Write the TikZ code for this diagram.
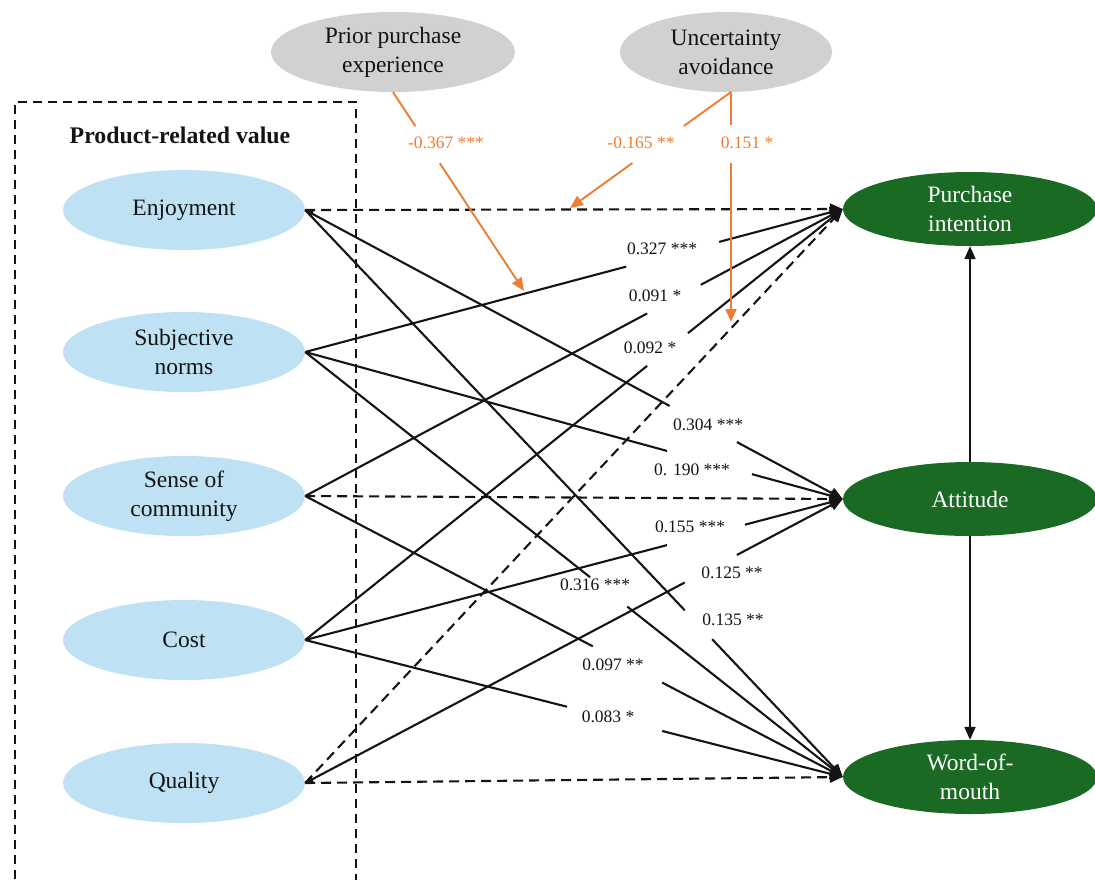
\documentclass[tikz,border=0pt]{standalone}
\usepackage{fontspec}
\setmainfont{Liberation Serif}
\usetikzlibrary{shapes.geometric,arrows.meta,calc}
\definecolor{valblue}{RGB}{190,226,243}
\definecolor{modgray}{RGB}{209,209,209}
\definecolor{outgreen}{RGB}{27,106,36}
\definecolor{modorange}{RGB}{237,125,49}
\definecolor{ink}{RGB}{20,20,20}

\begin{document}
\begin{tikzpicture}[x=1pt,y=-1pt,
  every node/.style={font=\fontsize{23.5}{29}\selectfont, text=ink},
  valnode/.style={ellipse, fill=valblue, minimum width=242pt, minimum height=80pt,
                  inner sep=0pt, align=center},
  modnode/.style={ellipse, fill=modgray, minimum width=244pt, minimum height=80pt,
                  inner sep=0pt, align=center},
  outnode/.style={ellipse, fill=outgreen, minimum width=254pt, minimum height=74pt,
                  inner sep=0pt, align=center, text=white},
  link/.style={line width=2.1pt, ink},
  nslink/.style={link, dash pattern=on 10pt off 6pt},
  tip/.style={-{Triangle[length=13pt,width=11pt]}},
  backtip/.style={{Triangle[length=8pt,width=7pt]}-},
  coef/.style={font=\fontsize{17.5}{20}\selectfont, inner sep=0pt},
  modlink/.style={line width=1.9pt, modorange},
  otip/.style={-{Triangle[length=13pt,width=11pt]}},
  ocoef/.style={coef, text=modorange},
]
\useasboundingbox (0,0) rectangle (1095,879);

% frame around the product-related value constructs
\node[draw=ink, line width=2.2pt, dash pattern=on 9pt off 6pt, minimum width=341pt,
      minimum height=800pt, inner sep=0pt, anchor=north west] (box) at (14,101) {};
\node[font=\bfseries\fontsize{23.8}{28}\selectfont] (title) at (180,135) {Product-related value};

% moderators
\node[modnode] (ppe) at (393,52) {Prior purchase\\experience};
\node[modnode, minimum width=212pt] (ua) at (726,52) {Uncertainty\\avoidance};

% product-related value constructs
\node[valnode] (enj)  at (184,210) {Enjoyment};
\node[valnode] (sn)   at (184,352) {Subjective\\norms};
\node[valnode] (soc)  at (184,496) {Sense of\\community};
\node[valnode] (cost) at (184,640) {Cost};
\node[valnode] (qual) at (184,783) {Quality};

% outcomes
\node[outnode] (pi)  at (970,209) {Purchase\\intention};
\node[outnode] (att) at (970,499) {Attitude};
\node[outnode] (wom) at (970,777) {Word-of-\\mouth};

% non-significant paths
\draw[nslink,tip] (enj.east) -- (pi.west);
\draw[nslink,tip] (soc.east) -- (att.west);
\draw[nslink,tip] (qual.east) -- (wom.west);
\draw[nslink,tip] (qual.east) -- (pi.west);

% significant paths, interrupted at their coefficients
\foreach \a/\b/\s/\e/\lx/\ly/\txt in {
    sn/pi/0.597/0.770/662/249/0.327 ***,
    soc/pi/0.636/0.736/655/296/0.091 *,
    cost/pi/0.636/0.712/650/348/0.092 *,
    sn/att/0.673/0.831/692/470/0. 190 ***,
    cost/att/0.673/0.818/690/527/0.155 ***,
    sn/wom/0.530/0.599/595/585/0.316 ***,
    enj/wom/0.706/0.757/733/620/0.135 **,
    soc/wom/0.535/0.664/613/665/0.097 **,
    cost/wom/0.487/0.664/608/717/0.083 *}{
  \draw[link] (\a.east) -- ($(\a.east)!\s!(\b.west)$);
  \draw[link,tip] ($(\a.east)!\e!(\b.west)$) -- (\b.west);
  \node[coef] (lab-\a-\b) at (\lx,\ly) {\txt};
}
\draw[link,backtip] (enj.east) -- ($(enj.east)!0.678!(att.west)$);
\draw[link,tip] ($(enj.east)!0.803!(att.west)$) -- (att.west);
\node[coef] (lab-enj-att) at (708,425) {0.304 ***};
\draw[link,backtip] (qual.east) -- ($(qual.east)!0.706!(att.west)$);
\draw[link,tip] ($(qual.east)!0.803!(att.west)$) -- (att.west);
\node[coef] (lab-qual-att) at (732,573) {0.125 **};

% links between outcomes
\draw[link,tip] (att.north) -- (pi.south);
\draw[link,tip] (att.south) -- (wom.north);

% moderating effects
\coordinate (uaj) at (731,92);
\coordinate (m1) at (524,291);
\coordinate (m2) at (570,208);
\coordinate (m3) at (731,322);
\draw[modlink] (ppe.south) -- ($(ppe.south)!0.171!(m1)$);
\draw[modlink,otip] ($(ppe.south)!0.357!(m1)$) -- (m1);
\node[ocoef] (lab-ppe) at (446,143) {-0.367 ***};
\draw[modlink] (uaj) -- ($(uaj)!0.293!(m2)$);
\draw[modlink,otip] ($(uaj)!0.612!(m2)$) -- (m2);
\node[ocoef] (lab-ua1) at (641,143) {-0.165 **};
\draw[modlink] (uaj) -- ($(uaj)!0.143!(m3)$);
\draw[modlink,otip] ($(uaj)!0.309!(m3)$) -- (m3);
\node[ocoef] (lab-ua2) at (747,143) {0.151 *};
\end{tikzpicture}
\end{document}
